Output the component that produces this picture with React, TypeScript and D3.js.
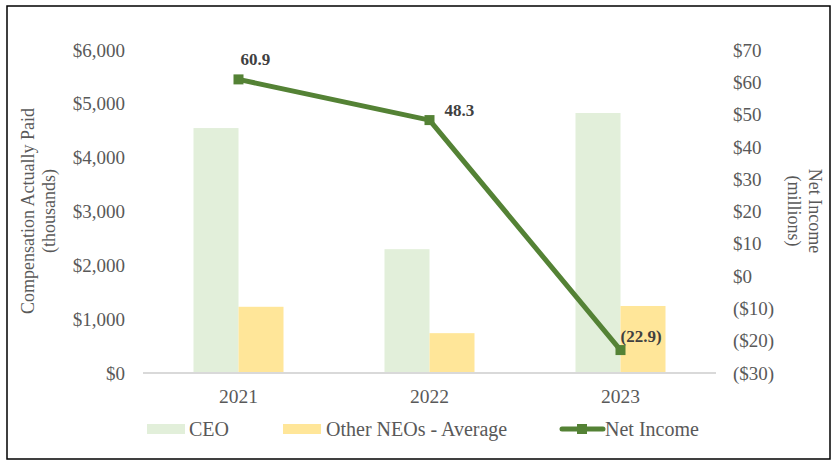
import { useEffect, useRef } from 'react'
import * as d3 from 'd3'

const years = ['2021', '2022', '2023']
const ceoPay = [4550, 2300, 4830]
const otherNeoPay = [1230, 740, 1245]
const netIncome = [60.9, 48.3, -22.9]
const netIncomeLabels = ['60.9', '48.3', '(22.9)']
const leftTicks = [0, 1000, 2000, 3000, 4000, 5000, 6000]
const rightTicks = [-30, -20, -10, 0, 10, 20, 30, 40, 50, 60, 70]

const W = 834
const H = 464
const FONT = '"Liberation Serif", "Times New Roman", serif'
const CEO_COLOR = '#E2EFDA'
const NEO_COLOR = '#FFE699'
const LINE_COLOR = '#548235'
const TEXT = '#595959'

export default function App() {
  const svgRef = useRef<SVGSVGElement>(null)

  useEffect(() => {
    if (!svgRef.current) return
    const svg = d3.select(svgRef.current)
    svg.selectAll('*').remove()

    const left = 143
    const right = 716
    const top = 50
    const bottom = 373

    const x = d3.scaleBand<string>().domain(years).range([left, right])
    const yL = d3.scaleLinear().domain([0, 6000]).range([bottom, top])
    const yR = d3.scaleLinear().domain([-30, 70]).range([bottom, top])
    const barW = 45

    // frame
    svg.append('rect')
      .attr('x', 7).attr('y', 6)
      .attr('width', 823).attr('height', 453)
      .attr('fill', 'white')
      .attr('stroke', '#000').attr('stroke-width', 1.5)

    // left ticks
    svg.append('g').selectAll('text')
      .data(leftTicks)
      .enter().append('text')
      .attr('x', 125)
      .attr('y', (d) => yL(d))
      .attr('dy', '0.35em')
      .attr('text-anchor', 'end')
      .attr('font-family', FONT).attr('font-size', 19)
      .attr('fill', TEXT)
      .text((d) => d3.format('$,')(d))

    // right ticks
    svg.append('g').selectAll('text')
      .data(rightTicks)
      .enter().append('text')
      .attr('x', 733)
      .attr('y', (d) => yR(d))
      .attr('dy', '0.35em')
      .attr('font-family', FONT).attr('font-size', 19)
      .attr('fill', TEXT)
      .text((d) => (d < 0 ? `($${-d})` : `$${d}`))

    // bars
    const g = svg.append('g')
    g.selectAll('rect.ceo')
      .data(years)
      .enter().append('rect')
      .attr('class', 'ceo')
      .attr('x', (d) => x(d)! + x.bandwidth() / 2 - barW)
      .attr('y', (_, i) => yL(ceoPay[i]))
      .attr('width', barW)
      .attr('height', (_, i) => bottom - yL(ceoPay[i]))
      .attr('fill', CEO_COLOR)
    g.selectAll('rect.neo')
      .data(years)
      .enter().append('rect')
      .attr('class', 'neo')
      .attr('x', (d) => x(d)! + x.bandwidth() / 2)
      .attr('y', (_, i) => yL(otherNeoPay[i]))
      .attr('width', barW)
      .attr('height', (_, i) => bottom - yL(otherNeoPay[i]))
      .attr('fill', NEO_COLOR)

    // baseline
    svg.append('line')
      .attr('x1', left).attr('x2', right)
      .attr('y1', bottom).attr('y2', bottom)
      .attr('stroke', '#D9D9D9').attr('stroke-width', 2)

    // x labels
    svg.append('g').selectAll('text')
      .data(years)
      .enter().append('text')
      .attr('x', (d) => x(d)! + x.bandwidth() / 2)
      .attr('y', 403)
      .attr('text-anchor', 'middle')
      .attr('font-family', FONT).attr('font-size', 19.5)
      .attr('fill', TEXT)
      .text((d) => d)

    // net income line
    const cx = (i: number) => x(years[i])! + x.bandwidth() / 2
    const line = d3.line<number>()
      .x((_, i) => cx(i))
      .y((d) => yR(d))
    svg.append('path')
      .datum(netIncome)
      .attr('d', line)
      .attr('fill', 'none')
      .attr('stroke', LINE_COLOR)
      .attr('stroke-width', 5)
      .attr('stroke-linejoin', 'round')
    svg.append('g').selectAll('rect')
      .data(netIncome)
      .enter().append('rect')
      .attr('x', (_, i) => cx(i) - 5)
      .attr('y', (d) => yR(d) - 5)
      .attr('width', 10).attr('height', 10)
      .attr('fill', LINE_COLOR)

    // data labels
    const labelOffsets = [[2, -14], [15, -4], [0, -8]]
    svg.append('g').selectAll('text')
      .data(netIncome)
      .enter().append('text')
      .attr('x', (_, i) => cx(i) + labelOffsets[i][0])
      .attr('y', (d, i) => yR(d) + labelOffsets[i][1])
      .attr('font-family', FONT).attr('font-size', 17)
      .attr('font-weight', 'bold')
      .attr('fill', '#404040')
      .text((_, i) => netIncomeLabels[i])

    // axis titles
    const lt = svg.append('text')
      .attr('transform', 'translate(34,211) rotate(-90)')
      .attr('text-anchor', 'middle')
      .attr('font-family', FONT).attr('font-size', 18)
      .attr('fill', TEXT)
    lt.append('tspan').attr('x', 0).attr('dy', 0).text('Compensation Actually Paid')
    lt.append('tspan').attr('x', 0).attr('dy', 21).text('(thousands)')

    const rt = svg.append('text')
      .attr('transform', 'translate(809,211) rotate(90)')
      .attr('text-anchor', 'middle')
      .attr('font-family', FONT).attr('font-size', 18)
      .attr('fill', TEXT)
    rt.append('tspan').attr('x', 0).attr('dy', 0).text('Net Income')
    rt.append('tspan').attr('x', 0).attr('dy', 21).text('(millions)')

    // legend
    const lg = svg.append('g')
    lg.append('rect').attr('x', 147).attr('y', 424).attr('width', 38).attr('height', 10).attr('fill', CEO_COLOR)
    lg.append('text').attr('x', 189).attr('y', 436)
      .attr('font-family', FONT).attr('font-size', 20).attr('fill', TEXT).text('CEO')
    lg.append('rect').attr('x', 283).attr('y', 424).attr('width', 38).attr('height', 10).attr('fill', NEO_COLOR)
    lg.append('text').attr('x', 326).attr('y', 436)
      .attr('font-family', FONT).attr('font-size', 20).attr('fill', TEXT).text('Other NEOs - Average')
    lg.append('line').attr('x1', 562).attr('x2', 603).attr('y1', 429).attr('y2', 429)
      .attr('stroke', LINE_COLOR).attr('stroke-width', 5).attr('stroke-linecap', 'round')
    lg.append('rect').attr('x', 577).attr('y', 424).attr('width', 10).attr('height', 10).attr('fill', LINE_COLOR)
    lg.append('text').attr('x', 605).attr('y', 436)
      .attr('font-family', FONT).attr('font-size', 20).attr('fill', TEXT).text('Net Income')
  }, [])

  return (
    <svg
      ref={svgRef}
      width={W}
      height={H}
      style={{ position: 'absolute', left: 0, top: 0, background: 'white' }}
    />
  )
}
